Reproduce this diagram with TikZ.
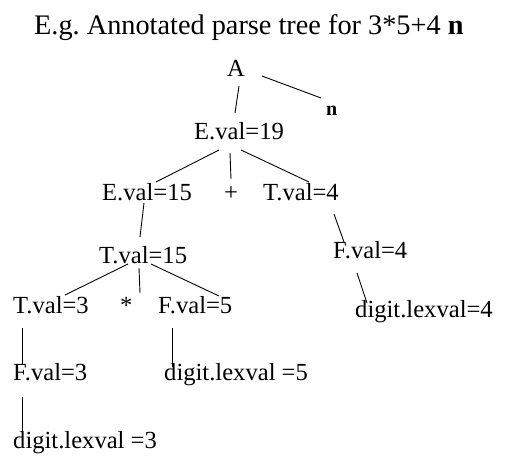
\documentclass[tikz,border=0pt]{standalone}
\usepackage{fontspec}
\setmainfont{Liberation Serif}
\begin{document}
\begin{tikzpicture}[x=1pt,y=-1pt,
  lbl/.style={anchor=base west,inner sep=0pt,font=\fontsize{24.6}{28}\selectfont},
  ttl/.style={anchor=base west,inner sep=0pt,font=\fontsize{28.3}{32}\selectfont},
  edge/.style={draw=black,line width=0.9pt}]
\useasboundingbox (0,0) rectangle (515,461);
\node[ttl] (title) at (34,34) {\frenchspacing E.g. Annotated parse tree for 3*5+4 \textbf{n}};
\node[lbl] (A) at (227,76) {A};
\node[anchor=base west,inner sep=0pt,font=\fontsize{20}{22}\selectfont\bfseries] (n) at (326,115) {n};
\node[lbl] (E19) at (194,139) {E.val=19};
\node[lbl] (E15) at (102,200) {E.val=15};
\node[lbl] (plus) at (224,200) {+};
\node[lbl] (T4) at (263,200) {T.val=4};
\node[lbl] (T15) at (99,263) {T.val=15};
\node[lbl] (F4) at (333,258) {F.val=4};
\node[lbl] (T3) at (13,313) {T.val=3};
\node[lbl] (star) at (120,313) {*};
\node[lbl] (F5) at (158,313) {F.val=5};
\node[lbl] (D4) at (355,317) {digit.lexval=4};
\node[lbl] (F3) at (13,380) {F.val=3};
\node[lbl] (D5) at (164,380) {digit.lexval =5};
\node[lbl] (D3) at (13,448) {digit.lexval =3};
\draw[edge] ([shift={(35,0)}]A.base west) -- ([shift={(-5,-17)}]n.base west);
\draw[edge] ([shift={(12,10)}]A.base west) -- ([shift={(41,-26)}]E19.base west);
\draw[edge] ([shift={(25,11)}]E19.base west) -- ([shift={(54,-18)}]E15.base west);
\draw[edge] ([shift={(36,14)}]E19.base west) -- ([shift={(7,-21)}]plus.base west);
\draw[edge] ([shift={(47,11)}]E19.base west) -- ([shift={(46,-18)}]T4.base west);
\draw[edge] ([shift={(42,3)}]E15.base west) -- ([shift={(41,-26)}]T15.base west);
\draw[edge] ([shift={(71,14)}]T4.base west) -- ([shift={(11,-16)}]F4.base west);
\draw[edge] ([shift={(29,1)}]T15.base west) -- ([shift={(52,-18)}]T3.base west);
\draw[edge] ([shift={(40,5)}]T15.base west) -- ([shift={(20,-20)}]star.base west);
\draw[edge] ([shift={(52,1)}]T15.base west) -- ([shift={(61,-17)}]F5.base west);
\draw[edge] ([shift={(24,15)}]F4.base west) -- ([shift={(12,-14)}]D4.base west);
\draw[edge] ([shift={(9,15)}]T3.base west) -- ([shift={(9,-15)}]F3.base west);
\draw[edge] ([shift={(14,15)}]F5.base west) -- ([shift={(8,-13)}]D5.base west);
\draw[edge] ([shift={(9,17)}]F3.base west) -- ([shift={(9,-15)}]D3.base west);
\end{tikzpicture}
\end{document}
